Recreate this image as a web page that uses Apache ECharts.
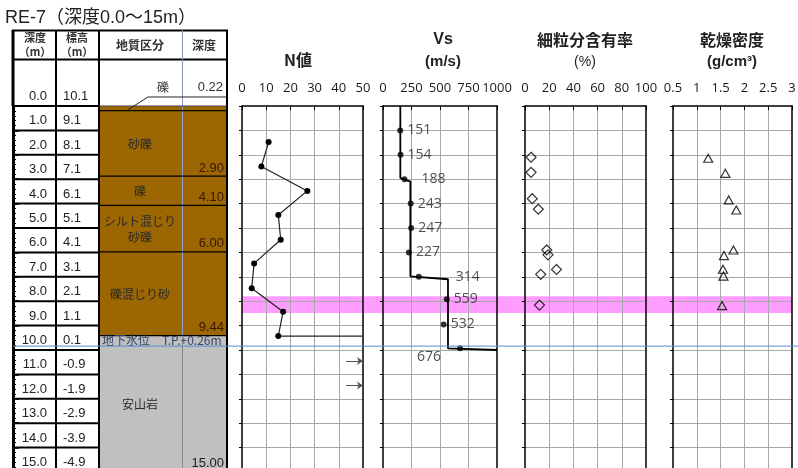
<!DOCTYPE html>
<html>
<head>
<meta charset="utf-8">
<script src="https://cdn.jsdelivr.net/npm/echarts@6/dist/echarts.min.js"></script>
<style>
html, body { margin: 0; padding: 0; background: #fff; }
#main { width: 798px; height: 468px; }
</style>
</head>
<body>
<div id="main"></div>
<script>
// 柱状図データ
var depthLabels = ['0.0','1.0','2.0','3.0','4.0','5.0','6.0','7.0','8.0','9.0','10.0','11.0','12.0','13.0','14.0','15.0'];
var elevLabels = ['10.1','9.1','8.1','7.1','6.1','5.1','4.1','3.1','2.1','1.1','0.1','-0.9','-1.9','-2.9','-3.9','-4.9'];

var layerNames = ['礫', '砂礫', '礫', 'シルト混じり\n砂礫', '礫混じり砂', '安山岩'];
var layerTops = [0, 0.22, 2.90, 4.10, 6.00, 9.44];
var layerBottoms = ['0.22', '2.90', '4.10', '6.00', '9.44', '15.00'];
var layerIsRock = [false, false, false, false, false, true];

var waterDepth = 9.84;
var waterText = '地下水位　T.P.+0.26m';
var bandTop = 7.8, bandBottom = 8.48;

// N値
var nDepths = [1.48, 2.48, 3.48, 4.47, 5.48, 6.45, 7.47, 8.43, 9.43];
var nValues = [11, 8, 27, 15, 16, 5, 4, 17, 15];
var nLimit = 50;
var nArrowDepths = [10.45, 11.45];

// Vs
var vsDepths = [1.0, 2.0, 3.0, 4.0, 5.0, 6.0, 7.0, 7.92, 8.95, 9.93];
var vsValues = [151, 154, 188, 243, 247, 227, 314, 559, 532, 676];
var vsStepDepths = [0, 2.95, 3.1, 6.98, 7.1, 9.93, 10.0];
var vsStepValues = [152, 152, 240, 240, 570, 570, 1000];

// 細粒分含有率
var finesDepths = [2.1, 2.72, 3.8, 4.23, 5.9, 6.1, 6.7, 6.9, 8.16];
var finesValues = [5, 5, 6, 11, 18, 19, 26, 13, 12];

// 乾燥密度
var densDepths = [2.14, 2.76, 3.85, 4.26, 5.9, 6.13, 6.69, 6.97, 8.18];
var densValues = [1.24, 1.60, 1.67, 1.83, 1.77, 1.57, 1.55, 1.56, 1.53];

var JP = '"Noto Sans CJK JP", sans-serif';
var NUM = '"Liberation Sans", "Noto Sans CJK JP", sans-serif';
var LBL = '"Open Sans", "Liberation Sans", sans-serif';
var gridColor = '#a8a8a8';
var soilColor = '#9c6603';
var rockColor = '#c0c0c0';

var chart = echarts.init(document.getElementById('main'));

var plotGrids = [
    { left: 242, width: 121 },
    { left: 383, width: 114 },
    { left: 525, width: 121 },
    { left: 673, width: 119 }
];
var plotRanges = [[0, 50, 10], [0, 1000, 250], [0, 100, 20], [0.5, 3, 0.5]];

var grids = plotGrids.map(function (g) {
    return { left: g.left, width: g.width, top: 106, height: 366, outerBoundsMode: 'none' };
});
grids.push({ left: 13, width: 214, top: 106, height: 366, outerBoundsMode: 'none' });

var xAxes = [], yAxes = [];
plotRanges.forEach(function (r, g) {
    xAxes.push({
        gridIndex: g, type: 'value', position: 'top', min: r[0], max: r[1], interval: r[2],
        axisLine: { show: true, lineStyle: { color: '#000', width: 1.5 } },
        axisTick: { show: true, inside: true, length: 4, lineStyle: { color: '#000' } },
        axisLabel: { margin: 11, fontSize: 13, color: '#1a1a1a', fontFamily: LBL, hideOverlap: false,
            showMinLabel: true, showMaxLabel: true,
            formatter: function (v) { return String(v); } },
        splitLine: { show: true, showMinLine: false, showMaxLine: false, lineStyle: { color: gridColor, width: 1 } }
    });
    yAxes.push({
        gridIndex: g, type: 'value', inverse: true, min: 0, max: 15, interval: 1,
        axisLine: { show: true, lineStyle: { color: '#000', width: 1.5 } },
        axisTick: { show: true, length: 3, lineStyle: { color: '#000' } },
        axisLabel: { show: false },
        splitLine: { show: true, showMinLine: false, showMaxLine: false, lineStyle: { color: gridColor, width: 1 } }
    });
    yAxes.push({
        gridIndex: g, type: 'value', inverse: true, min: 0, max: 15, position: 'right',
        axisLine: { show: true, lineStyle: { color: '#000', width: 1.5 } },
        axisTick: { show: false }, axisLabel: { show: false }, splitLine: { show: false }
    });
});
// table grid
xAxes.push({ gridIndex: 4, type: 'value', min: 0, max: 1, show: false });
yAxes.push({
    gridIndex: 4, type: 'value', inverse: true, min: 0, max: 15, interval: 1, position: 'left',
    axisLine: { show: true, lineStyle: { color: '#000', width: 3 } },
    axisTick: { show: true, inside: true, length: 6, lineStyle: { color: '#000', width: 1.5 } },
    minorTick: { show: true, splitNumber: 5, length: 3, lineStyle: { color: '#000', width: 1 } },
    axisLabel: { show: false },
    splitLine: { show: false }
});

var vsLabelOffsets = { 2: [10, 0], 6: [30, 0], 9: [-50, 9] };

function txt(x, y, text, size, opts) {
    opts = opts || {};
    return {
        type: 'text', x: x, y: y, silent: true,
        style: {
            text: text, fill: opts.fill || '#222',
            font: (opts.bold ? 'bold ' : '') + size + 'px ' + (opts.family || JP),
            align: opts.align || 'center', verticalAlign: opts.valign || 'middle',
            lineHeight: opts.lh || size + 2
        }
    };
}
function ln(x1, y1, x2, y2, w, c) {
    return { type: 'line', silent: true, shape: { x1: x1, y1: y1, x2: x2, y2: y2 },
        style: { stroke: c || '#000', lineWidth: w } };
}

var graphics = [
    txt(5, 18, 'RE-7（深度0.0～15m）', 18, { align: 'left', family: NUM, fill: '#222' }),
    // table header frame
    ln(12, 30.5, 228, 30.5, 2),
    ln(12, 59.5, 228, 59.5, 2),
    ln(13, 30, 13, 106, 3),
    ln(56, 30, 56, 470, 2),
    ln(99, 30, 99, 470, 2),
    ln(227, 30, 227, 470, 2),
    ln(182.5, 30, 182.5, 470, 1, '#8696b0'),
    txt(35, 38, '深度', 11, { bold: true, fill: '#333' }),
    txt(35, 52, '（m）', 11, { bold: true, fill: '#333' }),
    txt(77, 38, '標高', 11, { bold: true, fill: '#333' }),
    txt(77, 52, '（m）', 11, { bold: true, fill: '#333' }),
    txt(140, 45, '地質区分', 12, { bold: true, fill: '#333' }),
    txt(204, 45, '深度', 12, { bold: true, fill: '#333' }),
    // plot titles
    txt(298, 60, 'N値', 16, { bold: true }),
    txt(443, 40, 'Vs', 16, { bold: true, family: NUM }),
    txt(443, 62, '(m/s)', 15, { bold: true, family: NUM }),
    txt(585, 40, '細粒分含有率', 16, { bold: true }),
    txt(585, 62, '(%)', 14, { family: NUM }),
    txt(732, 40, '乾燥密度', 16, { bold: true }),
    txt(732, 62, '(g/cm³)', 15, { bold: true, family: NUM })
];

var series = [];

// pink band
series.push({
    type: 'custom', xAxisIndex: 4, yAxisIndex: 8, z: -1, silent: true,
    data: [[bandTop, bandBottom]],
    renderItem: function (params, api) {
        var y1 = api.coord([0, api.value(0)])[1];
        var y2 = api.coord([0, api.value(1)])[1];
        return { type: 'rect', shape: { x: 242, y: y1, width: 550, height: y2 - y1 },
            style: { fill: '#ff9cff' } };
    }
});

// geology layers
series.push({
    type: 'custom', xAxisIndex: 4, yAxisIndex: 8, z: 2, silent: true,
    data: layerTops.map(function (t, i) { return [t, parseFloat(layerBottoms[i])]; }),
    renderItem: function (params, api) {
        var i = params.dataIndex;
        var yT = api.coord([0, api.value(0)])[1];
        var yB = api.coord([0, api.value(1)])[1];
        var kids = [{ type: 'rect', shape: { x: 100, y: yT, width: 126, height: yB - yT },
            style: { fill: layerIsRock[i] ? rockColor : soilColor } }];
        kids.push(ln(182.5, yT, 182.5, yB, 1, layerIsRock[i] ? '#8a8a8a' : '#8da2c8'));
        if (i === 0) kids.push(ln(99, yT, 227, yT, 1, '#444'));
        if (i < layerTops.length - 1) kids.push(ln(99, yB, 227, yB, 2.5, '#000'));
        if (yB - yT < 12) {
            kids.push(txt(163, yT - 19, layerNames[i], 12, { fill: '#333' }));
            kids.push(txt(223, yT - 19, layerBottoms[i], 13, { align: 'right', family: NUM, fill: '#333' }));
            kids.push({ type: 'polyline', silent: true,
                shape: { points: [[127, yB - 1], [148, yT - 9], [227, yT - 9]] },
                style: { stroke: '#222', lineWidth: 1, fill: null } });
        } else {
            kids.push(txt(140, (yT + yB) / 2, layerNames[i], 12, { fill: '#2a2a2a', lh: 16 }));
            kids.push(txt(224, yB - 1, layerBottoms[i], 13,
                { align: 'right', valign: 'bottom', family: NUM, fill: layerIsRock[i] ? '#222' : '#3a1800' }));
        }
        return { type: 'group', children: kids };
    }
});

// depth / elevation rows
series.push({
    type: 'custom', xAxisIndex: 4, yAxisIndex: 8, z: 3, silent: true,
    data: depthLabels.map(function (s) { return [0, parseFloat(s)]; }),
    renderItem: function (params, api) {
        var i = params.dataIndex;
        var y = api.coord([0, api.value(1)])[1];
        return { type: 'group', children: [
            ln(13, y, 99, y, 2),
            txt(47, y - 2, depthLabels[i], 13, { align: 'right', valign: 'bottom', family: NUM }),
            txt(63, y - 2, elevLabels[i], 13, { align: 'left', valign: 'bottom', family: NUM })
        ] };
    }
});

// ground water
series.push({
    type: 'custom', xAxisIndex: 4, yAxisIndex: 8, z: 10, silent: true,
    data: [[0, waterDepth]],
    renderItem: function (params, api) {
        var y = api.coord([0, api.value(1)])[1];
        return { type: 'group', children: [
            ln(13, y, 798, y, 1, '#5b8bd0'),
            txt(102, y - 6, waterText, 12, { align: 'left', fill: '#34466e' })
        ] };
    }
});

// N値
series.push({
    type: 'line', xAxisIndex: 0, yAxisIndex: 0, z: 4,
    data: nDepths.map(function (d, i) { return [nValues[i], d]; }),
    symbol: 'circle', symbolSize: 6, showAllSymbol: true,
    itemStyle: { color: '#000' }, lineStyle: { color: '#222', width: 1.2 }
});
series.push({
    type: 'line', xAxisIndex: 0, yAxisIndex: 0, z: 3, symbol: 'none',
    data: [[nValues[nValues.length - 1], nDepths[nDepths.length - 1]], [nLimit, nDepths[nDepths.length - 1]]],
    lineStyle: { color: '#222', width: 1.2 }
});
series.push({
    type: 'lines', coordinateSystem: 'cartesian2d', xAxisIndex: 0, yAxisIndex: 0, z: 4,
    symbol: ['none', 'arrow'], symbolSize: 6,
    lineStyle: { color: '#555', width: 1, opacity: 1 },
    data: nArrowDepths.map(function (d) { return { coords: [[43, d], [nLimit, d]] }; })
});

// Vs
series.push({
    type: 'line', xAxisIndex: 1, yAxisIndex: 2, z: 3, symbol: 'none',
    data: vsStepDepths.map(function (d, i) { return [vsStepValues[i], d]; }),
    lineStyle: { color: '#000', width: 1.8 }
});
series.push({
    type: 'scatter', xAxisIndex: 1, yAxisIndex: 2, z: 4, symbolSize: 6,
    itemStyle: { color: '#000' },
    label: { show: true, position: 'right', distance: 4, fontSize: 14, color: '#262626', fontFamily: LBL,
        formatter: function (p) { return p.value[0]; } },
    data: vsDepths.map(function (d, i) {
        var item = { value: [vsValues[i], d] };
        if (vsLabelOffsets[i]) item.label = { offset: vsLabelOffsets[i] };
        return item;
    })
});

// 細粒分含有率
series.push({
    type: 'scatter', xAxisIndex: 2, yAxisIndex: 4, z: 4, symbol: 'diamond', symbolSize: [10, 10],
    itemStyle: { color: 'rgba(0,0,0,0)', borderColor: '#000', borderWidth: 1.2 },
    data: finesDepths.map(function (d, i) { return [finesValues[i], d]; })
});

// 乾燥密度
series.push({
    type: 'scatter', xAxisIndex: 3, yAxisIndex: 6, z: 4, symbol: 'triangle', symbolSize: [9, 8],
    itemStyle: { color: 'rgba(0,0,0,0)', borderColor: '#000', borderWidth: 1.2 },
    data: densDepths.map(function (d, i) { return [densValues[i], d]; })
});

chart.setOption({
    animation: false,
    backgroundColor: '#fff',
    textStyle: { fontFamily: JP },
    grid: grids,
    xAxis: xAxes,
    yAxis: yAxes,
    graphic: graphics,
    series: series
});
</script>
</body>
</html>
